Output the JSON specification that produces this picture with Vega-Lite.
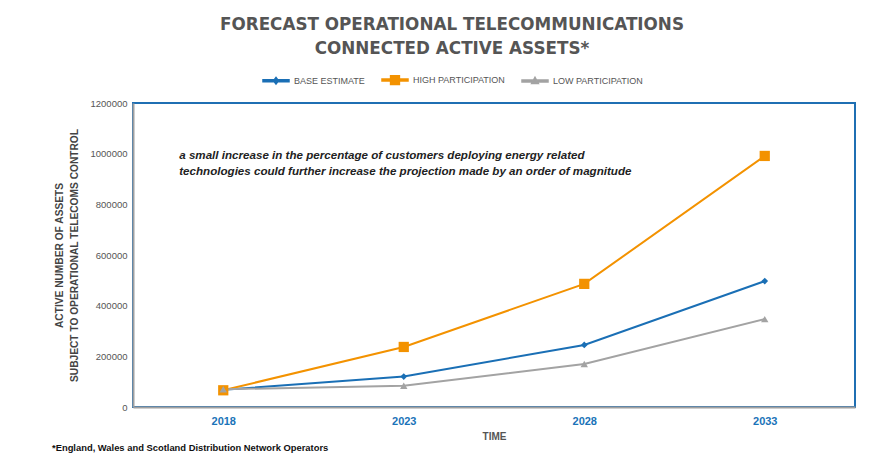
{
  "$schema": "https://vega.github.io/schema/vega-lite/v6.json",
  "autosize": "none",
  "padding": {"left": 133, "top": 103, "right": 39, "bottom": 50},
  "width": 722,
  "height": 304,
  "background": "white",
  "title": {
    "text": "*England, Wales and Scotland Distribution Network Operators",
    "orient": "bottom",
    "anchor": "start",
    "frame": "group",
    "dx": -81,
    "offset": 3,
    "fontSize": 9.4,
    "font": "Liberation Sans",
    "fontWeight": "bold",
    "color": "#111"
  },
  "config": {
    "view": {"stroke": "#1f6fb3", "strokeWidth": 2},
    "font": "Liberation Sans"
  },
  "data": {
    "values": [
      {"year": "2018", "series": "BASE ESTIMATE", "assets": 68000},
      {"year": "2023", "series": "BASE ESTIMATE", "assets": 120000},
      {"year": "2028", "series": "BASE ESTIMATE", "assets": 245000},
      {"year": "2033", "series": "BASE ESTIMATE", "assets": 497000},
      {"year": "2018", "series": "HIGH PARTICIPATION", "assets": 66000},
      {"year": "2023", "series": "HIGH PARTICIPATION", "assets": 237000},
      {"year": "2028", "series": "HIGH PARTICIPATION", "assets": 486000},
      {"year": "2033", "series": "HIGH PARTICIPATION", "assets": 991000},
      {"year": "2018", "series": "LOW PARTICIPATION", "assets": 70000},
      {"year": "2023", "series": "LOW PARTICIPATION", "assets": 84000},
      {"year": "2028", "series": "LOW PARTICIPATION", "assets": 170000},
      {"year": "2033", "series": "LOW PARTICIPATION", "assets": 347000}
    ]
  },
  "encoding": {
    "x": {
      "field": "year",
      "type": "ordinal",
      "scale": {"type": "point", "padding": 0.5},
      "axis": {
        "title": "TIME",
        "labelAngle": 0,
        "labelColor": "#1a73b8",
        "labelFontSize": 11,
        "labelFontWeight": "bold",
        "labelPadding": 8,
        "ticks": false,
        "domainColor": "#a0a0a0",
        "domainWidth": 2,
        "titleFontSize": 10,
        "titleFontWeight": "bold",
        "titleColor": "#555",
        "titlePadding": 5
      }
    },
    "y": {
      "field": "assets",
      "type": "quantitative",
      "scale": {"domain": [0, 1200000]},
      "axis": {
        "title": ["ACTIVE NUMBER OF ASSETS", "SUBJECT TO OPERATIONAL TELECOMS CONTROL"],
        "values": [0, 200000, 400000, 600000, 800000, 1000000, 1200000],
        "format": "d",
        "grid": false,
        "ticks": false,
        "labelFontSize": 9.5,
        "labelColor": "#555",
        "labelPadding": 6,
        "domainColor": "#a0a0a0",
        "domainWidth": 2,
        "titleFontSize": 10.2,
        "titleFontWeight": "bold",
        "titleColor": "#444",
        "titleLineHeight": 15,
        "titlePadding": 11
      }
    },
    "color": {
      "field": "series",
      "type": "nominal",
      "scale": {
        "domain": ["BASE ESTIMATE", "HIGH PARTICIPATION", "LOW PARTICIPATION"],
        "range": ["#1a6fb5", "#f39200", "#a3a3a3"]
      },
      "legend": {
        "orient": "none",
        "direction": "horizontal",
        "legendX": 87,
        "legendY": -86,
        "title": ["FORECAST OPERATIONAL TELECOMMUNICATIONS", "CONNECTED ACTIVE ASSETS*"],
        "titleFont": "DejaVu Sans",
        "titleFontSize": 16.8,
        "titleFontWeight": "bold",
        "titleColor": "#555",
        "titleAnchor": "middle",
        "titleLimit": 2000,
        "titleLineHeight": 24,
        "titlePadding": 8,
        "symbolSize": 676,
        "symbolOpacity": 1,
        "labelFontSize": 9,
        "labelColor": "#555",
        "labelOffset": 4,
        "columnPadding": 14
      }
    }
  },
  "layer": [
    {
      "transform": [{"filter": "false"}],
      "mark": {"type": "point", "filled": true, "opacity": 1},
      "encoding": {
        "shape": {
          "field": "series",
          "type": "nominal",
          "scale": {
            "domain": ["BASE ESTIMATE", "HIGH PARTICIPATION", "LOW PARTICIPATION"],
            "range": [
              "M-1,-0.077H1V0.077H-1ZM0,-0.25L0.19,0L0,0.25L-0.19,0Z",
              "M-1,-0.077H1V0.077H-1ZM-0.34,-0.34H0.34V0.34H-0.34Z",
              "M-1,-0.077H1V0.077H-1ZM0,-0.28L0.26,0.2H-0.26Z"
            ]
          }
        }
      }
    },
    {
      "mark": {"type": "line", "strokeWidth": 2},
      "encoding": {
        "color": {"field": "series", "type": "nominal", "legend": null}
      }
    },
    {
      "transform": [{"filter": "datum.series === 'BASE ESTIMATE'"}],
      "mark": {"type": "point", "filled": true, "opacity": 1, "shape": "diamond", "size": 45},
      "encoding": {
        "color": {"field": "series", "type": "nominal", "legend": null}
      }
    },
    {
      "transform": [{"filter": "datum.series === 'HIGH PARTICIPATION'"}],
      "mark": {"type": "point", "filled": true, "opacity": 1, "shape": "square", "size": 105},
      "encoding": {
        "color": {"field": "series", "type": "nominal", "legend": null}
      }
    },
    {
      "transform": [{"filter": "datum.series === 'LOW PARTICIPATION'"}],
      "mark": {"type": "point", "filled": true, "opacity": 1, "shape": "triangle-up", "size": 55},
      "encoding": {
        "color": {"field": "series", "type": "nominal", "legend": null}
      }
    },
    {
      "data": {"values": [{"year": "2018", "assets": 1000000, "note": "a small increase in the percentage of customers deploying energy related\ntechnologies could further increase the projection made by an order of magnitude"}]},
      "mark": {
        "type": "text",
        "align": "left",
        "baseline": "middle",
        "dx": -44,
        "dy": 2,
        "lineBreak": "\n",
        "lineHeight": 16,
        "fontSize": 11.6,
        "fontStyle": "italic",
        "fontWeight": "bold",
        "color": "#222"
      },
      "encoding": {
        "color": {"value": "#222"},
        "text": {"field": "note", "type": "nominal"}
      }
    }
  ]
}
